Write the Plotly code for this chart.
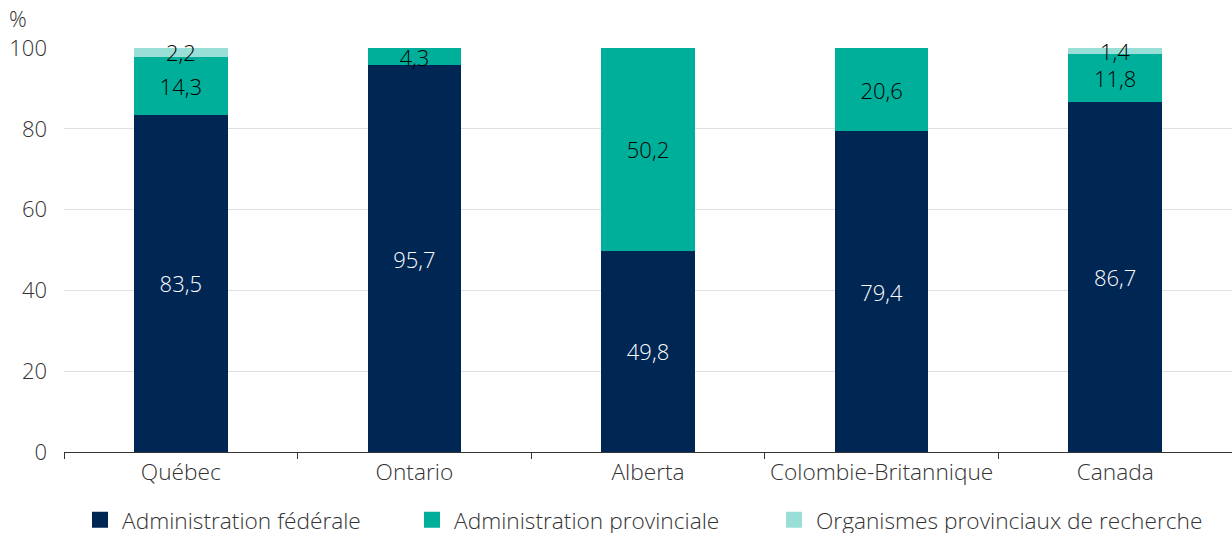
import plotly.graph_objects as go

categories = ["Québec", "Ontario", "Alberta", "Colombie-Britannique", "Canada"]
federal = [83.5, 95.7, 49.8, 79.4, 86.7]
provincial = [14.3, 4.3, 50.2, 20.6, 11.8]
research = [2.2, 0.0, 0.0, 0.0, 1.4]
series_names = ["Administration fédérale", "Administration provinciale",
                "Organismes provinciaux de recherche"]
y_ticks = [0, 20, 40, 60, 80, 100]

colors = ["#002654", "#00AF9A", "#9ADFD7"]
text_colors = ["#FFFFFF", "#000000", "#000000"]
FONT = "Open Sans"
FS = 22
FS_L = 22.7


def labels(vals):
    return [(f"{v:.1f}".replace(".", ",") if v > 0 else "") for v in vals]


fig = go.Figure()
for name, vals, c, tc in zip(series_names, [federal, provincial, research], colors, text_colors):
    fig.add_trace(go.Bar(
        x=categories, y=vals, name=name, marker_color=c,
        marker_line=dict(width=0),
        text=labels(vals), textposition="inside", insidetextanchor="middle",
        textangle=0, constraintext="none", cliponaxis=False,
        textfont=dict(family=FONT, size=FS, color=tc, weight=300),
        showlegend=False, hoverinfo="skip",
    ))

legend_x = [98, 430, 792]
for i, (name, c) in enumerate(zip(series_names, colors)):
    fig.add_trace(go.Scatter(
        x=[None], y=[None], mode="markers", name=name,
        marker=dict(symbol="square", size=16, color=c),
        legend="legend" if i == 0 else f"legend{i+1}",
    ))

leg_common = dict(orientation="h", xref="container", yref="container",
                  xanchor="left", yanchor="middle", y=(533 - 520) / 533,
                  bgcolor="rgba(0,0,0,0)", borderwidth=0, itemwidth=34,
                  font=dict(family=FONT, size=FS_L, color="#333333", weight=300))

fig.update_layout(
    width=1232, height=533,
    margin=dict(l=64, r=0, t=48, b=81),
    paper_bgcolor="white", plot_bgcolor="white",
    barmode="stack", bargap=0.6,
    separators=", ",
    font=dict(family=FONT, color="#333333", weight=300),
    legend=dict(leg_common, x=(legend_x[0] - 20) / 1232),
    legend2=dict(leg_common, x=(legend_x[1] - 20) / 1232),
    legend3=dict(leg_common, x=(legend_x[2] - 20) / 1232),
    xaxis=dict(
        type="category", tickson="boundaries", ticks="outside", ticklen=6,
        tickcolor="#333333", showline=True, linecolor="#333333", linewidth=1,
        showgrid=False,
        tickfont=dict(family=FONT, size=FS_L, color="#333333", weight=300),
    ),
    yaxis=dict(
        range=[0, 100], tickvals=y_ticks, showgrid=True, gridcolor="#E0E0E0",
        gridwidth=1, zeroline=False, showline=False, ticks="", ticklabelstandoff=16,
        tickfont=dict(family=FONT, size=FS, color="#333333", weight=300),
    ),
    annotations=[dict(text="%", xref="paper", yref="paper",
                      x=(18 - 64) / 1168, y=(452 - 18) / 404,
                      xanchor="center", yanchor="middle", showarrow=False,
                      font=dict(family=FONT, size=FS, color="#333333", weight=300))],
)

fig.write_html("out.html")
